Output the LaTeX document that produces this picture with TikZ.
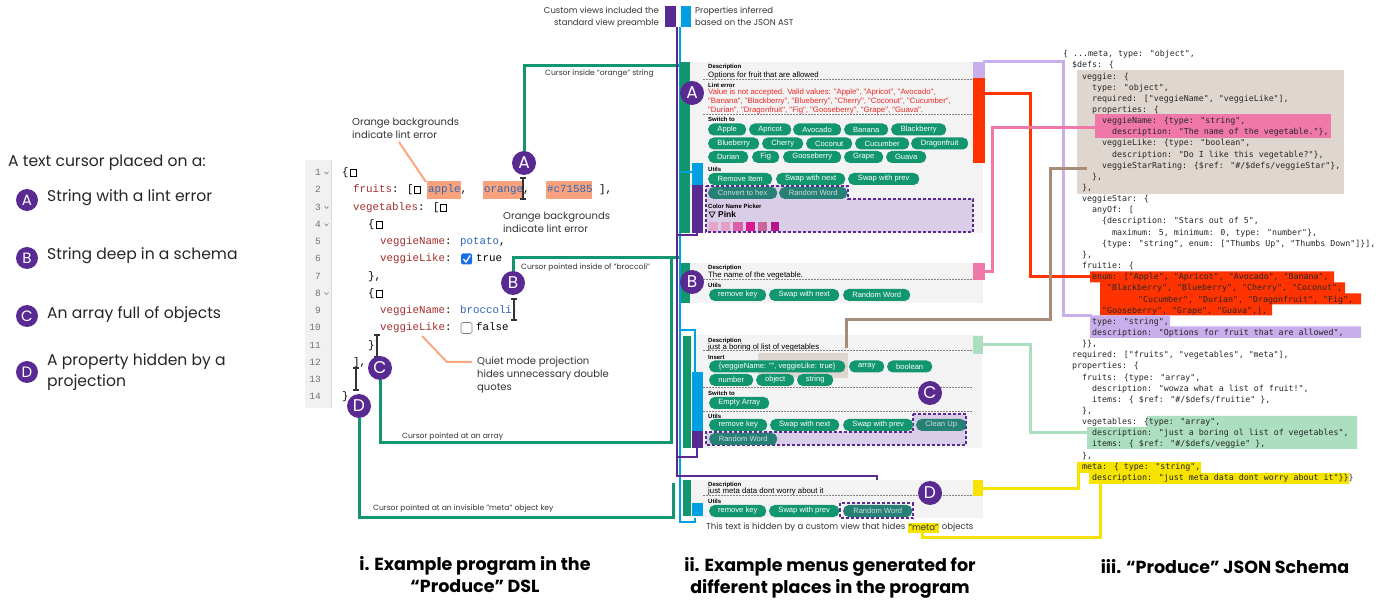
\documentclass[tikz,border=0pt]{standalone}
\usepackage{fontspec}
\setmainfont{Poppins}
\newfontfamily\menuf{Liberation Sans}
\newfontfamily\codef{Liberation Mono}
\newfontfamily\jsonf{DejaVu Sans Mono}
\definecolor{pur}{RGB}{89,42,145}
\definecolor{tealg}{RGB}{18,150,112}
\definecolor{dteal}{RGB}{38,128,118}
\definecolor{blu}{RGB}{0,160,225}
\definecolor{lav}{RGB}{201,174,236}
\definecolor{hred}{RGB}{255,51,0}
\definecolor{hpink}{RGB}{240,120,168}
\definecolor{brn}{RGB}{168,140,122}
\definecolor{beige}{RGB}{223,214,207}
\definecolor{hgreen}{RGB}{171,223,192}
\definecolor{hyel}{RGB}{246,228,0}
\definecolor{salmon}{RGB}{250,162,126}
\definecolor{orl}{RGB}{250,168,128}
\definecolor{menubg}{RGB}{243,243,243}
\definecolor{purfill}{RGB}{218,205,232}
\definecolor{keyc}{RGB}{163,45,45}
\definecolor{valc}{RGB}{45,100,180}
\definecolor{lintc}{RGB}{240,40,40}
\definecolor{cbblue}{RGB}{25,110,230}
\definecolor{gutter}{RGB}{241,241,241}
\newcommand\mybtn[5][btn]{\node[#1,minimum width={(#3-#2)*1pt}] at (#2,#4) {#5};}
\newcommand\ibeam[3]{\draw[ibeamst] ({#1-3},#2) -- ({#1+3},#2) (#1,#2) -- (#1,#3) ({#1-3},#3) -- ({#1+3},#3);}
\newcommand\fsq[2]{\draw[line width=0.6pt] (#1,{#2-3.5}) rectangle ({#1+6},{#2+3.5});}
\newcommand\chev[1]{\draw[gray, line width=0.6pt] (324.5,{#1-1.2}) -- (326.5,{#1+1}) -- (328.5,{#1-1.2});}
\newcommand\jl[3]{\node[json] (j#1) at (#2,{54+11.15*#1}) {#3};}
\tikzset{
  txt/.style={inner sep=0pt, anchor=mid west},
  leg/.style={txt, font=\fontsize{15.6}{18}\selectfont, text=black!85},
  note/.style={txt, font=\fontsize{10}{12.5}\selectfont, text=black!80},
  small/.style={txt, font=\fontsize{7.6}{9}\selectfont, text=black!80},
  code/.style={txt, font=\codef\fontsize{10.8}{13}\selectfont},
  json/.style={txt, font=\jsonf\fontsize{8.3}{10}\selectfont, text=black!85},
  mlab/.style={txt, font=\menuf\bfseries\fontsize{6}{7}\selectfont},
  mtxt/.style={txt, font=\menuf\fontsize{7.8}{9}\selectfont},
  btn/.style={fill=tealg, text=white, rounded corners=5.5pt, inner sep=0pt, minimum height=12pt, font=\menuf\fontsize{7.6}{9}\selectfont, anchor=west},
  dbtn/.style={btn, fill=dteal, text=white!75!dteal},
  circ/.style={circle, fill=pur, text=white, minimum size=24pt, inner sep=0pt, font=\fontsize{17}{17}\selectfont},
  lcirc/.style={circ, minimum size=22pt, font=\fontsize{15}{15}\selectfont},
  conn/.style={line width=3pt},
  thin/.style={line width=1.5pt},
  ibeamst/.style={line width=1.8pt, black!80},
  mdash/.style={gray, dash pattern=on 2pt off 1pt, line width=0.6pt},
  pdash/.style={pur, dash pattern=on 3pt off 2pt, line width=2pt},
  capt/.style={align=center, font=\bfseries\fontsize{17.5}{22}\selectfont, inner sep=0pt}
}
\begin{document}
\begin{tikzpicture}[x=1pt,y=-1pt]
\useasboundingbox (0,0) rectangle (1393,601);
% ---------------- legend
\node[leg] (lt) at (8,164) {A text cursor placed on a:};
\node[lcirc] (lA) at (27,200) {A};
\node[leg] (lAt) at (47,199) {String with a lint error};
\node[lcirc] (lB) at (27,258) {B};
\node[leg] (lBt) at (47,257) {String deep in a schema};
\node[lcirc] (lC) at (27,316) {C};
\node[leg] (lCt) at (47,316) {An array full of objects};
\node[lcirc] (lD) at (27,372) {D};
\node[leg] (lDt) at (47,363) {A property hidden by a};
\node[leg] (lDt2) at (47,384) {projection};
% ---------------- top labels
\fill[pur] (665,6) rectangle (676,27);
\fill[blu] (681,6) rectangle (691,27);
\node[small, anchor=mid east, font=\fontsize{8.5}{9}\selectfont] (t1) at (659,11) {Custom views included the};
\node[small, anchor=mid east, font=\fontsize{8.5}{9}\selectfont] (t2) at (659,23) {standard view preamble};
\node[small, font=\fontsize{8.5}{9}\selectfont] (t3) at (695,11) {Properties inferred};
\node[small, font=\fontsize{8.5}{9}\selectfont] (t4) at (695,23) {based on the JSON AST};
% ---------------- code panel
\fill[gutter] (305,160) rectangle (331,408);
\draw[black!15] (331,160) -- (331,408);
\foreach \n in {1,...,14}{
  \node[code, anchor=mid east, text=black!55, font=\codef\fontsize{9.5}{11}\selectfont] at (321,{173+(\n-1)*17.23}) {\n};
}
\chev{173} \chev{207.5} \chev{224.7} \chev{293.6}
% salmon bgs
\fill[salmon] (427,181) rectangle (461,199);
\fill[salmon] (483,181) rectangle (523,199);
\fill[salmon] (546,181) rectangle (592,199);
% lines
\node[code] (c1) at (342,173) {\{}; \fsq{350}{173}
\node[code] (c2) at (353,190) {\textcolor{keyc}{fruits}: [}; \fsq{414}{190}
\node[code] at (428,190) {\textcolor{valc}{apple},};
\node[code] at (484,190) {\textcolor{valc}{orange},};
\node[code] at (547,190) {\textcolor{valc}{\#c71585} ],};
\node[code] (c3) at (353,207.5) {\textcolor{keyc}{vegetables}: [}; \fsq{440}{207.5}
\node[code] (c4) at (368,224.7) {\{}; \fsq{376}{224.7}
\node[code] (c5) at (380,242) {\textcolor{keyc}{veggieName}: \textcolor{valc}{potato},};
\node[code] (c6) at (380,259) {\textcolor{keyc}{veggieLike}:};
\fill[cbblue, rounded corners=1.5pt] (461,253.5) rectangle (472,264.5);
\draw[white, line width=1.3pt] (463.3,259) -- (466,262) -- (470.2,255.5);
\node[code] at (476,259) {true};
\node[code] (c7) at (368,276.4) {\},};
\node[code] (c8) at (368,293.6) {\{}; \fsq{376}{293.6}
\node[code] (c9) at (380,310.8) {\textcolor{keyc}{veggieName}: \textcolor{valc}{broccoli},};
\node[code] (c10) at (380,328) {\textcolor{keyc}{veggieLike}:};
\draw[gray, rounded corners=1.5pt, line width=0.6pt] (461,322.5) rectangle (472,333.5);
\node[code] at (476,328) {false};
\node[code] (c11) at (368,345.3) {\}};
\node[code] (c12) at (353,362.5) {],};
\node[code] (c14) at (342,397) {\}};
% annotations
\node[note] (n1) at (352,123) {Orange backgrounds};
\node[note] (n1b) at (352,135.5) {indicate lint error};
\draw[orl, line width=2pt] (399,142) -- (426,182);
\node[note] (n2) at (503,217) {Orange backgrounds};
\node[note] (n2b) at (503,229.5) {indicate lint error};
\draw[orl, line width=2pt] (422,336) -- (447,362) -- (472,362);
\node[note] (n3) at (477,362) {Quiet mode projection};
\node[note] (n3b) at (477,375) {hides unnecessary double};
\node[note] (n3c) at (477,388) {quotes};
% cursors
\ibeam{523}{178}{199}
\ibeam{514}{299}{320}
\ibeam{377}{335}{357}
\ibeam{356}{368}{390}
% cursor circles
\node[circ] (cA) at (524,163) {A};
\node[circ] (cB) at (513,283) {B};
\node[circ] (cC) at (380,368) {C};
\node[circ] (cD) at (359,406) {D};
\draw[conn, tealg] (cA) |- (680,66);
\draw[conn, tealg] (cB) |- (681,258);
\draw[conn, tealg] (cC) |- (671,443) -- (671,258);
\draw[conn, tealg] (cD) |- (673,517) -- (673,483);
\node[small] at (545,73) {Cursor inside “orange” string};
\node[small] at (521,267) {Cursor pointed inside of "broccoli"};
\node[small] at (402,436) {Cursor pointed at an array};
\node[small] at (373,508) {Cursor pointed at an invisible "meta" object key};
% ---------------- JSON highlights
\fill[beige] (1077,70) rectangle (1344,194);
\fill[hpink] (1095,114) rectangle (1331,138);
\fill[hred] (1090,271.5) rectangle (1334,282.5) (1100,282.5) rectangle (1345,293.5) (1100,293.5) rectangle (1361,304.5) (1100,304.5) rectangle (1272,315.5);
\fill[lav] (1090,315.5) rectangle (1170,326.5) (1090,326.5) rectangle (1361,338);
\fill[hgreen] (1147,416) rectangle (1357,427) (1087,427) rectangle (1357,449);
\fill[hyel] (1077,462) rectangle (1201,473) (1089,473) rectangle (1349,484);
% ---------------- right connectors
\draw[conn, lav] (983,62) -| (1063,316) -- (1092,316);
\draw[conn, hred] (983,94) -| (1030,277) -- (1092,277);
\draw[conn, hpink] (983,272) -| (992,128) -- (1095,128);
\draw[conn, brn] (846,348) |- (1050,320) |- (1087,169);
\draw[conn, hgreen] (983,345) -| (1030,433) -- (1087,433);
\draw[conn, hyel] (983,489) -| (1078,463);
% ---------------- JSON text
\jl{0}{1063}{\{ ...meta, type: "object",}
\jl{1}{1072}{\$defs: \{}
\jl{2}{1082}{veggie: \{}
\jl{3}{1092}{type: "object",}
\jl{4}{1092}{required: ["veggieName", "veggieLike"],}
\jl{5}{1092}{properties: \{}
\jl{6}{1102}{veggieName: \{type: "string",}
\jl{7}{1112}{description: "The name of the vegetable."\},}
\jl{8}{1102}{veggieLike: \{type: "boolean",}
\jl{9}{1112}{description: "Do I like this vegetable?"\},}
\jl{10}{1102}{veggieStarRating: \{\$ref: "\#/\$defs/veggieStar"\},}
\jl{11}{1092}{\},}
\jl{12}{1082}{\},}
\jl{13}{1082}{veggieStar: \{}
\jl{14}{1092}{anyOf: [}
\jl{15}{1102}{\{description: "Stars out of 5",}
\jl{16}{1112}{maximum: 5, minimum: 0, type: "number"\},}
\jl{17}{1102}{\{type: "string", enum: ["Thumbs Up", "Thumbs Down"]\}],}
\jl{18}{1082}{\},}
\jl{19}{1082}{fruitie: \{}
\jl{20}{1092}{enum: ["Apple", "Apricot", "Avocado", "Banana",}
\jl{21}{1107}{"Blackberry", "Blueberry", "Cherry", "Coconut",}
\jl{22}{1138}{"Cucumber", "Durian", "Dragonfruit", "Fig",}
\jl{23}{1102}{"Gooseberry", "Grape", "Guava",],}
\jl{24}{1092}{type: "string",}
\jl{25}{1092}{description: "Options for fruit that are allowed",}
\jl{26}{1082}{\}\},}
\jl{27}{1072}{required: ["fruits", "vegetables", "meta"],}
\jl{28}{1072}{properties: \{}
\jl{29}{1082}{fruits: \{type: "array",}
\jl{30}{1092}{description: "wowza what a list of fruit!",}
\jl{31}{1092}{items: \{ \$ref: "\#/\$defs/fruitie" \},}
\jl{32}{1082}{\},}
\jl{33}{1082}{vegetables: \{type: "array",}
\jl{34}{1092}{description: "just a boring ol list of vegetables",}
\jl{35}{1092}{items: \{ \$ref: "\#/\$defs/veggie" \},}
\jl{36}{1082}{\},}
\jl{37}{1082}{meta: \{ type: "string",}
\jl{38}{1092}{description: "just meta data dont worry about it"\}\}\}}
% ---------------- left thin connectors
\draw[thin, blu] (680,27) -- (680,522) -- (695,522) -- (695,516);
\draw[thin, pur] (677,27) -- (677,476) -- (877,476) -- (877,503);
% ---------------- MENU A
\fill[menubg] (690,62) rectangle (983,233);
\fill[tealg] (680,62) rectangle (690,233);
\fill[blu] (692,163) rectangle (703,185);
\fill[pur] (692,185) rectangle (703,233);
\draw[thin, blu] (680,172) -- (692,172);
\draw[thin, pur] (677,235) -- (697,235) -- (697,233);
\fill[lav] (973,62) rectangle (985,78);
\fill[hred] (973,78) rectangle (985,163);
\node[mlab] (mAd) at (708,66) {Description};
\node[mtxt] at (708,75) {Options for fruit that are allowed};
\draw[mdash] (703,79) -- (973,79);
\node[mlab] at (708,84.5) {Lint error};
\node[mtxt, text=lintc] at (708,92) {Value is not accepted. Valid values: "Apple", "Apricot", "Avocado",};
\node[mtxt, text=lintc] at (708,101) {"Banana", "Blackberry", "Blueberry", "Cherry", "Coconut", "Cucumber",};
\node[mtxt, text=lintc] at (708,110) {"Durian", "Dragonfruit", "Fig", "Gooseberry", "Grape", "Guava".};
\draw[mdash] (703,114) -- (973,114);
\node[mlab] at (708,119) {Switch to};
\mybtn{708}{746}{129.5}{Apple}
\mybtn{749}{791}{129.5}{Apricot}
\mybtn{793}{841}{129.5}{Avocado}
\mybtn{844}{888}{129.5}{Banana}
\mybtn{891}{946}{129.5}{Blackberry}
\mybtn{708}{759}{143.5}{Blueberry}
\mybtn{762}{803}{143.5}{Cherry}
\mybtn{806}{852}{143.5}{Coconut}
\mybtn{855}{909}{143.5}{Cucumber}
\mybtn{911}{968}{143.5}{Dragonfruit}
\mybtn{708}{748}{157}{Durian}
\mybtn{752}{779}{157}{Fig}
\mybtn{783}{841}{157}{Gooseberry}
\mybtn{844}{883}{157}{Grape}
\mybtn{886}{926}{157}{Guava}
\node[mlab] at (708,169) {Utils};
\mybtn{708}{772}{179}{Remove Item}
\mybtn{776}{845}{179}{Swap with next}
\mybtn{848}{919}{179}{Swap with prev}
\draw[pdash, fill=purfill] (706,186) -- (848,186) -- (848,199) -- (973,199) -- (973,232) -- (706,232) -- cycle;
\mybtn[dbtn]{708}{777}{193}{Convert to hex}
\mybtn[dbtn]{779}{847}{193}{Random Word}
\node[mlab] at (708,206) {Color Name Picker};
\draw[line width=0.6pt] (709,212) -- (715,212) -- (712,217.5) -- cycle;
\node[txt, font=\menuf\bfseries\fontsize{8.5}{9}\selectfont] at (718,215) {Pink};
\fill[fill={rgb,255:red,230;green,165;blue,200}] (709,222) rectangle (718,231);
\fill[fill={rgb,255:red,226;green,160;blue,196}] (721,222) rectangle (730,231);
\fill[fill={rgb,255:red,219;green,96;blue,168}] (733,222) rectangle (743,231);
\fill[fill={rgb,255:red,217;green,26;blue,143}] (746,222) rectangle (755,231);
\fill[fill={rgb,255:red,204;green,102;blue,153}] (758,222) rectangle (767,231);
\fill[fill={rgb,255:red,181;green,20;blue,138}] (771,222) rectangle (779,231);
\node[circ] (mA) at (692,93) {A};
% ---------------- MENU B
\fill[menubg] (690,263) rectangle (983,303);
\fill[tealg] (681,263) rectangle (690,303);
\fill[hpink] (973,263) rectangle (985,280);
\node[mlab] at (708,266.5) {Description};
\node[mtxt] at (708,275) {The name of the vegetable.};
\draw[mdash] (703,279.5) -- (973,279.5);
\node[mlab] at (708,285) {Utils};
\mybtn{709}{766}{295}{remove key}
\mybtn{769}{839}{295}{Swap with next}
\mybtn{843}{910}{295}{Random Word}
\node[circ] (mB) at (692,282) {B};
% ---------------- MENU C
\fill[menubg] (690,335) rectangle (982,448);
\fill[tealg] (683,336) rectangle (691,448);
\fill[blu] (692,372) rectangle (703,431);
\fill[pur] (692,431) rectangle (703,448);
\draw[thin, blu] (680,330) -- (695,330) -- (695,372);
\draw[thin, pur] (677,457) -- (697,457) -- (697,448);
\fill[hgreen] (973,336) rectangle (983,354);
\fill[beige] (758,353) rectangle (848,378);
\draw[conn, brn] (846,335) -- (846,348);
\node[mlab] at (708,339.5) {Description};
\node[mtxt] at (708,347) {just a boring ol list of vegetables};
\draw[mdash] (703,350.5) -- (973,350.5);
\node[mlab] at (708,356.5) {Insert};
\mybtn{709}{845}{366.5}{\{veggieName: "", veggieLike: true\}}
\mybtn{849}{884}{366.5}{array}
\mybtn{887}{932}{366.5}{boolean}
\mybtn{709}{753}{380}{number}
\mybtn{756}{794}{380}{object}
\mybtn{797}{833}{380}{string}
\draw[mdash] (703,387) -- (973,387);
\node[mlab] at (708,393) {Switch to};
\mybtn{709}{769}{403}{Empty Array}
\draw[mdash] (703,411) -- (973,411);
\node[mlab] at (708,415.5) {Utils};
\mybtn{709}{767}{425}{remove key}
\mybtn{770}{839}{425}{Swap with next}
\draw[pdash, fill=purfill] (913,414) -- (966,414) -- (966,445) -- (706,445) -- (706,432) -- (913,432) -- cycle;
\mybtn{843}{913}{425}{Swap with prev}
\mybtn[dbtn]{916}{966}{425}{Clean Up}
\mybtn[dbtn]{709}{777}{439}{Random Word}
\node[circ] (mC) at (930,393) {C};
% ---------------- MENU D
\fill[menubg] (690,480) rectangle (983,518);
\fill[tealg] (683,480) rectangle (691,516);
\fill[blu] (692,503) rectangle (703,516);
\fill[hyel] (973,480) rectangle (983,496);
\node[mlab] at (708,483.5) {Description};
\node[mtxt] at (708,491) {just meta data dont worry about it};
\draw[mdash] (703,495) -- (973,495);
\node[mlab] at (708,501) {Utils};
\mybtn{709}{766}{511}{remove key}
\mybtn{769}{839}{511}{Swap with prev}
\mybtn[dbtn]{843}{912}{511}{Random Word}
\draw[pdash] (840,503.5) rectangle (913,518);
\node[circ] (mD) at (930,493) {D};
\node[small, font=\fontsize{8.6}{9}\selectfont] (hid1) at (706,527) {This text is hidden by a custom view that hides};
\node[small, font=\fontsize{8.6}{9}\selectfont, fill=hyel, inner xsep=0.5pt, inner ysep=2pt, anchor=west] (hid2) at ([xshift=2.5pt]hid1.east) {"meta"};
\node[small, font=\fontsize{8.6}{9}\selectfont, anchor=west] (hid3) at ([xshift=2.5pt]hid2.east) {objects};
\coordinate (ycorner) at (922,537);
\draw[conn, hyel] (1100,484) |- (ycorner) -- (hid2.south -| ycorner);
% ---------------- captions
\node[capt] (cap1) at (475,575) {i. Example program in the\\“Produce” DSL};
\node[capt] (cap2) at (830,578) {ii. Example menus generated for\\different places in the program};
\node[capt] (cap3) at (1225,567) {iii. “Produce” JSON Schema};
\end{tikzpicture}
\end{document}
